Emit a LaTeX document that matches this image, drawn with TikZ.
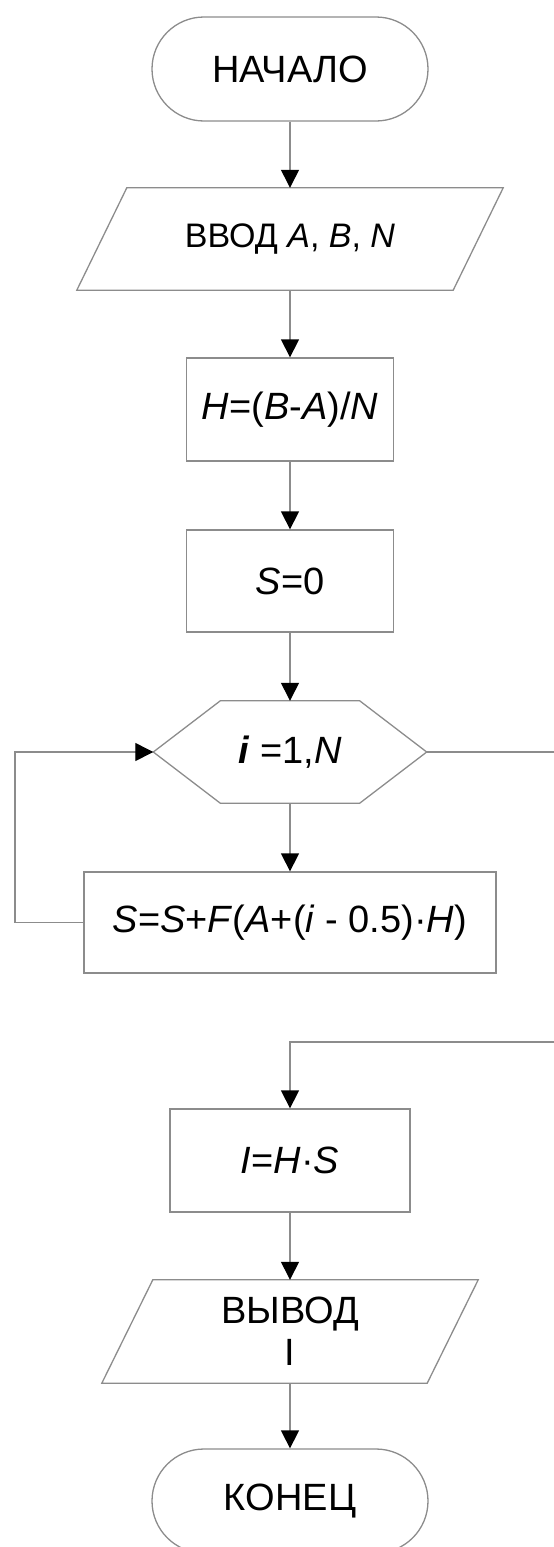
\documentclass[tikz,border=0pt]{standalone}
\usepackage{fontspec}
\setmainfont{Liberation Sans}
\usetikzlibrary{arrows.meta,shapes.misc}
\definecolor{ln}{RGB}{140,140,140}
\begin{document}
\begin{tikzpicture}[x=1pt,y=-1pt,
  every node/.style={font=\fontsize{38}{42}\selectfont, inner sep=0pt, align=center},
  small/.style={font=\fontsize{34}{42}\selectfont},
  box/.style={draw=ln, line width=1.3pt},
  term/.style={draw=ln, line width=1.3pt, rounded rectangle, minimum width=276pt, minimum height=104pt},
  conn/.style={draw=ln, line width=1.3pt},
  arr/.style={conn, -{Triangle[width=18pt,length=18pt,color=black]}}]
\useasboundingbox (0,0) rectangle (554,1547);
% nodes
\node[term] (start) at (290,69) {НАЧАЛО};
\node[small, minimum width=326pt, minimum height=102pt] (in) at (290,239) {ВВОД \textit{A}, \textit{B}, \textit{N}};
\draw[conn] (in.north west) -- ([xshift=50pt]in.north east) -- (in.south east) -- ([xshift=-50pt]in.south west) -- cycle;
\node[box, minimum width=207pt, minimum height=103pt] (h) at (290,409.5) {\textit{H}=(\textit{B}-\textit{A})/\textit{N}};
\node[box, minimum width=207pt, minimum height=102pt] (s0) at (290,581) {\textit{S}=0};
\node[minimum width=273pt, minimum height=102pt] (hex) at (290,752) {\textbf{\textit{i}} =1,\textit{N}};
\draw[conn] (hex.west) -- ([xshift=67pt]hex.north west) -- ([xshift=-67pt]hex.north east) -- (hex.east) -- ([xshift=-67pt]hex.south east) -- ([xshift=67pt]hex.south west) -- cycle;
\node[box, minimum width=412pt, minimum height=101pt] (sum) at (290,922.5) {\textit{S}=\textit{S}+\textit{F}(\textit{A}+(\textit{i} - 0.5)·\textit{H})};
\node[box, minimum width=240pt, minimum height=103pt] (ihs) at (290,1160.5) {\textit{I}=\textit{H}·\textit{S}};
\node[minimum width=274pt, minimum height=103pt] (out) at (290,1331.5) {ВЫВОД\\I};
\draw[conn] (out.north west) -- ([xshift=51pt]out.north east) -- (out.south east) -- ([xshift=-51pt]out.south west) -- cycle;
\node[term] (end) at (290,1501) {КОНЕЦ};
% connectors
\draw[arr] (start.south) -- (in.north);
\draw[arr] (in.south) -- (h.north);
\draw[arr] (h.south) -- (s0.north);
\draw[arr] (s0.south) -- (hex.north);
\draw[arr] (hex.south) -- (sum.north);
\coordinate (lp) at (15,922.5);
\draw[arr] (sum.west) -- (lp) |- (hex.west);
\coordinate (rx) at (556,752);
\draw[conn] (hex.east) -- (rx);
\coordinate (ry) at (556,1042);
\draw[arr] (ry) -| (ihs.north);
\draw[arr] (ihs.south) -- (out.north);
\draw[arr] (out.south) -- (end.north);
\end{tikzpicture}
\end{document}
